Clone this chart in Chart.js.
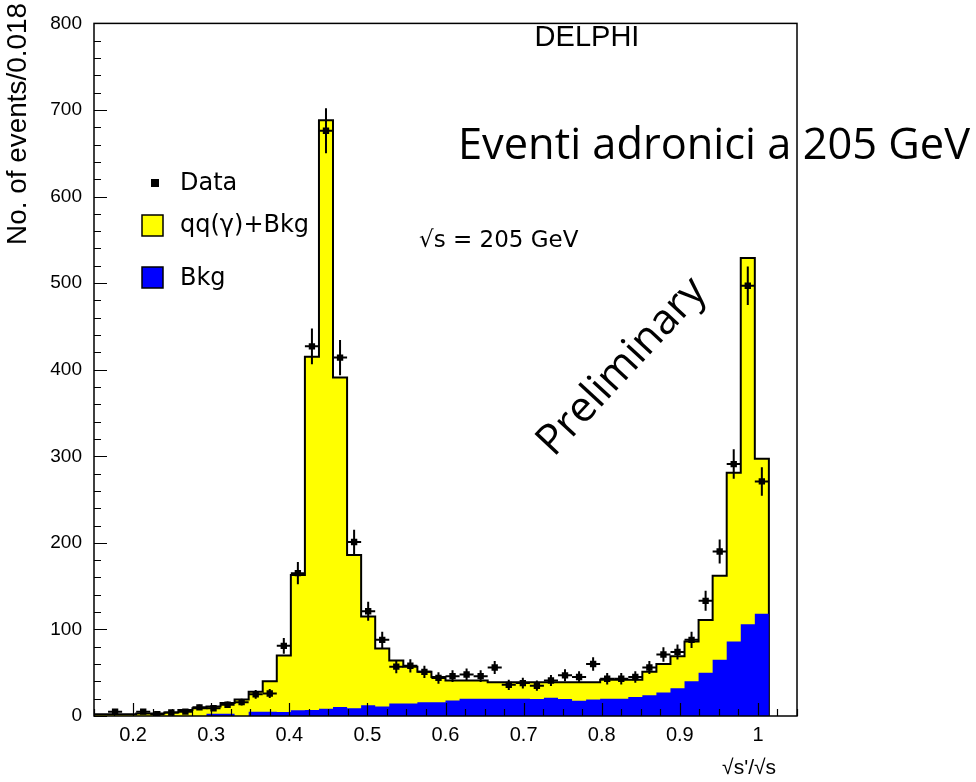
<!DOCTYPE html>
<html>
<head>
<meta charset="utf-8">
<script src="https://cdn.jsdelivr.net/npm/chart.js@4.4.0/dist/chart.umd.min.js"></script>
<style>
body { margin: 0; background: #fff; }
#wrap { width: 976px; height: 782px; }
</style>
</head>
<body>
<div id="wrap"><canvas id="histo" width="976" height="782"></canvas></div>
<script>
// histogram bins: 48 bins of 0.018 starting at 0.15
var binLow = 0.15
var binWidth = 0.018

// qq(gamma)+Bkg (yellow, black outline)
var totalMC = [2, 2, 2, 3, 3, 4, 7, 9, 11, 15,
	19, 28, 40, 70, 163, 415, 688, 391, 186, 115,
	78, 64, 57, 51, 45, 41, 41, 41, 39, 39,
	39, 39, 39, 39, 39, 39, 42, 42, 42, 51,
	60, 69, 86, 111, 162, 281, 529, 297]

// Bkg (blue)
var bkgMC = [0, 0, 0, 0, 0, 0, 0, 0, 2.5, 2.5,
	0, 5, 5, 4.5, 6.5, 7, 8.5, 10.5, 9, 12.5,
	11, 14.5, 14.5, 16, 16, 18, 20, 20, 20, 20,
	20, 19.5, 21, 19.5, 17.5, 19, 20, 20, 22, 24,
	27, 32, 40, 50, 65, 86, 106, 118]

// Data (points, sqrt(N) errors)
var dataPts = [null, 5, null, 5, 2, 4, 5, 10, 9, 13,
	16, 25, 26, 81, 165, 427, 676, 414, 201, 121,
	88, 57, 58, 51, 44, 46, 48, 46, 56, 36,
	38, 35, 41, 47, 45, 60, 43, 43, 45, 56,
	71, 74, 88, 133, 190, 291, 497, 271]

var xTickVals = [0.2, 0.3, 0.4, 0.5, 0.6, 0.7, 0.8, 0.9, 1]
var yTickVals = [0, 100, 200, 300, 400, 500, 600, 700, 800]

function stepPoints(vals) {
	var pts = []
	for (var i = 0; i < vals.length; i++) {
		pts.push({x: binLow + i * binWidth, y: vals[i]})
	}
	var xEnd = binLow + vals.length * binWidth
	pts.push({x: xEnd, y: vals[vals.length - 1]})
	pts.push({x: xEnd, y: 0})
	return pts
}

var dataXY = []
for (var i = 0; i < dataPts.length; i++) {
	if (dataPts[i] != null) dataXY.push({x: binLow + (i + 0.5) * binWidth, y: dataPts[i]})
}

function fitText(ctx, txt, family, size, width) {
	ctx.font = size + 'px ' + family
	var w = ctx.measureText(txt).width
	ctx.font = (size * width / w).toFixed(2) + 'px ' + family
}

var decor = {
	id: 'decor',
	afterDatasetsDraw: function (chart) {
		var ctx = chart.ctx, xs = chart.scales.x, ys = chart.scales.y, a = chart.chartArea
		ctx.save()
		// error bars
		ctx.strokeStyle = '#000'
		ctx.lineWidth = 2
		for (var i = 0; i < dataPts.length; i++) {
			var v = dataPts[i]
			if (v == null) continue
			var x0 = xs.getPixelForValue(binLow + i * binWidth)
			var x1 = xs.getPixelForValue(binLow + (i + 1) * binWidth)
			var cx = (x0 + x1) / 2, cy = ys.getPixelForValue(v), e = Math.sqrt(v)
			ctx.beginPath()
			ctx.moveTo(x0, cy); ctx.lineTo(x1, cy)
			ctx.moveTo(cx, ys.getPixelForValue(Math.max(v - e, 0))); ctx.lineTo(cx, ys.getPixelForValue(v + e))
			ctx.stroke()
		}
		// inner ticks
		ctx.lineWidth = 1.2
		ctx.beginPath()
		for (var t = 0.15; t <= 1.0501; t += 0.025) {
			var px = Math.round(xs.getPixelForValue(t)) + 0.5
			var major = Math.abs(t * 10 - Math.round(t * 10)) < 1e-6
			ctx.moveTo(px, a.bottom); ctx.lineTo(px, a.bottom - (major ? 13 : 7))
		}
		for (var y = 0; y <= 800; y += 20) {
			var py = Math.round(ys.getPixelForValue(y)) + 0.5
			ctx.moveTo(a.left, py); ctx.lineTo(a.left + (y % 100 == 0 ? 13 : 7), py)
		}
		ctx.stroke()
		// frame
		ctx.lineWidth = 1.5
		ctx.strokeRect(a.left, a.top, a.right - a.left, a.bottom - a.top)
		ctx.restore()
	},
	afterDraw: function (chart) {
		var ctx = chart.ctx
		ctx.save()
		ctx.fillStyle = '#000'
		ctx.textBaseline = 'middle'

		// axis titles
		ctx.save()
		fitText(ctx, 'No. of events/0.018', '"Liberation Sans", Arial, sans-serif', 22, 242)
		ctx.translate(18, 3)
		ctx.rotate(-Math.PI / 2)
		ctx.textAlign = 'right'
		ctx.fillText('No. of events/0.018', 0, 0)
		ctx.restore()

		ctx.font = '21px "Liberation Sans", Arial, sans-serif'
		ctx.textAlign = 'right'
		ctx.fillText('\u221As\'/\u221As', 776, 768)

		// labels
		ctx.font = '29px "Liberation Sans", Arial, sans-serif'
		ctx.textAlign = 'center'
		ctx.fillText('DELPHI', 587, 38)

		ctx.textAlign = 'left'
		ctx.font = '23px "DejaVu Sans", sans-serif'
		ctx.fillText('\u221As = 205 GeV', 419, 241)

		// legend
		ctx.font = '24px "DejaVu Sans", sans-serif'
		ctx.fillRect(151, 179, 8, 8)
		ctx.fillText('Data', 180, 184)
		ctx.fillStyle = '#ffff00'
		ctx.fillRect(142, 215, 21, 21)
		ctx.strokeStyle = '#000'
		ctx.lineWidth = 1.5
		ctx.strokeRect(142, 215, 21, 21)
		ctx.fillStyle = '#000'
		ctx.fillText('qq(\u03B3)+Bkg', 180, 226)
		ctx.fillStyle = '#0000ff'
		ctx.fillRect(142, 267, 21, 21)
		ctx.strokeRect(142, 267, 21, 21)
		ctx.fillStyle = '#000'
		ctx.fillText('Bkg', 180, 279)

		// Preliminary
		ctx.save()
		fitText(ctx, 'Preliminary', '"Open Sans", sans-serif', 30, 226)
		ctx.translate(622, 367)
		ctx.rotate(-47 * Math.PI / 180)
		ctx.textAlign = 'center'
		ctx.fillText('Preliminary', 0, 0)
		ctx.restore()

		// big title
		fitText(ctx, 'Eventi adronici a 205 GeV', '"Open Sans", sans-serif', 34, 512)
		ctx.textAlign = 'left'
		ctx.fillText('Eventi adronici a 205 GeV', 458, 147)

		ctx.restore()
	}
}

var ctxH = document.getElementById('histo').getContext('2d')
var histo = new Chart(ctxH, {
	type: 'line',
	data: {
		datasets: [{
			label: 'Data',
			data: dataXY,
			showLine: false,
			pointStyle: 'rect',
			pointRadius: 4.5,
			backgroundColor: '#000',
			borderColor: '#000',
			borderWidth: 0,
			order: 1
		}, {
			label: 'Bkg',
			data: stepPoints(bkgMC),
			stepped: 'before',
			fill: 'origin',
			backgroundColor: '#0000ff',
			borderColor: '#0000ff',
			borderWidth: 0,
			pointRadius: 0,
			order: 2
		}, {
			label: 'qq(\u03B3)+Bkg',
			data: stepPoints(totalMC),
			stepped: 'before',
			fill: 'origin',
			backgroundColor: '#ffff00',
			borderColor: '#000',
			borderWidth: 2,
			pointRadius: 0,
			order: 3
		}]
	},
	options: {
		responsive: false,
		animation: false,
		events: [],
		layout: {padding: {left: 0, top: 14, right: 179, bottom: 0}},
		plugins: {legend: {display: false}, tooltip: {enabled: false}},
		scales: {
			x: {
				type: 'linear',
				min: 0.15,
				max: 1.05,
				grid: {display: false, drawTicks: false},
				border: {display: false},
				afterBuildTicks: function (s) { s.ticks = xTickVals.map(function (v) { return {value: v} }) },
				afterFit: function (s) { s.height = 66 },
				ticks: {
					color: '#000',
					padding: 7,
					maxRotation: 0,
					autoSkip: false,
					font: {family: '"Liberation Sans", Arial, sans-serif', size: 20},
					callback: function (v) { return String(v) }
				}
			},
			y: {
				type: 'linear',
				min: 0,
				max: 800,
				grid: {display: false, drawTicks: false},
				border: {display: false},
				afterBuildTicks: function (s) { s.ticks = yTickVals.map(function (v) { return {value: v} }) },
				afterFit: function (s) { s.width = 94 },
				ticks: {
					color: '#000',
					padding: 12,
					autoSkip: false,
					font: {family: '"Liberation Sans", Arial, sans-serif', size: 19},
					callback: function (v) { return String(v) }
				}
			}
		}
	},
	plugins: [decor]
})
</script>
</body>
</html>
